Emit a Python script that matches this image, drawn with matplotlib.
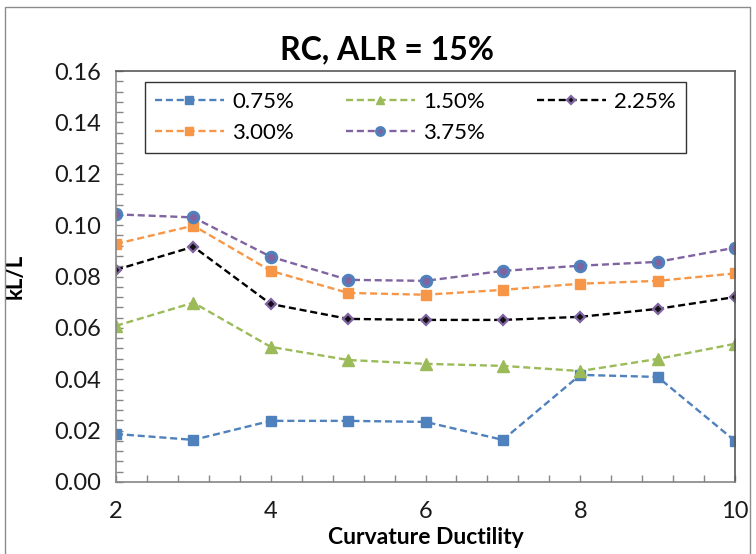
import matplotlib as mpl
mpl.use('Agg')
import matplotlib.pyplot as plt
from matplotlib.patches import Rectangle
from matplotlib.ticker import MultipleLocator

plt.rcParams['font.family'] = ['Lato', 'DejaVu Sans']

ductility = [2, 3, 4, 5, 6, 7, 8, 9, 10]
labels = ['0.75%', '1.50%', '2.25%', '3.00%', '3.75%']
kl_075 = [0.0187, 0.0164, 0.0238, 0.0238, 0.0234, 0.0164, 0.0417, 0.0409, 0.0160]
kl_150 = [0.0608, 0.0698, 0.0526, 0.0475, 0.0460, 0.0452, 0.0432, 0.0479, 0.0538]
kl_225 = [0.0826, 0.0916, 0.0693, 0.0635, 0.0631, 0.0631, 0.0643, 0.0674, 0.0720]
kl_300 = [0.0927, 0.0998, 0.0822, 0.0736, 0.0729, 0.0748, 0.0772, 0.0783, 0.0812]
kl_375 = [0.1042, 0.1030, 0.0877, 0.0787, 0.0783, 0.0822, 0.0842, 0.0857, 0.0912]

fig = plt.figure(figsize=(7.56, 5.54), dpi=100)
ax = fig.add_axes([116/756, 1-482/554, (735-116)/756, (482-71)/554])

dash = (3, 1.6)
l1, = ax.plot(ductility, kl_075, ls='--', dashes=dash, color='#4F81BD', lw=1.7,
              marker='s', ms=7.5, mfc='#4F81BD', mec='#4F81BD', label=labels[0])
l2, = ax.plot(ductility, kl_150, ls='--', dashes=dash, color='#9BBB59', lw=1.7,
              marker='^', ms=8.5, mfc='#9BBB59', mec='#9BBB59', label=labels[1])
l3, = ax.plot(ductility, kl_225, ls='--', dashes=dash, color='black', lw=1.7,
              marker='D', ms=5.5, mfc='#111111', mec='#8064A2', mew=1.6, label=labels[2])
l4, = ax.plot(ductility, kl_300, ls='--', dashes=dash, color='#F79646', lw=1.7,
              marker='s', ms=7.5, mfc='#F79646', mec='#F79646', label=labels[3])
l5, = ax.plot(ductility, kl_375, ls='--', dashes=dash, color='#8064A2', lw=1.7,
              marker='o', ms=7.5, mfc='#8064A2', mec='#4F81BD', mew=2.2, label=labels[4])

ax.set_xlim(2, 10)
ax.set_ylim(0, 0.16)
ax.xaxis.set_major_locator(MultipleLocator(2))
ax.xaxis.set_minor_locator(MultipleLocator(0.4))
ax.yaxis.set_major_locator(MultipleLocator(0.02))
ax.yaxis.set_minor_locator(MultipleLocator(0.004))
ax.yaxis.set_major_formatter(mpl.ticker.FormatStrFormatter('%.2f'))
ax.tick_params(which='both', direction='in', length=5, color='#868686', width=1)
ax.tick_params(axis='both', labelsize=17, colors='#868686', labelcolor='#1a1a1a')
ax.tick_params(axis='x', pad=14)
ax.tick_params(axis='y', pad=11)
for s in ['left', 'bottom']:
    ax.spines[s].set_color('#868686')
for s in ['top', 'right']:
    ax.spines[s].set_color('#595959')
for s in ax.spines.values():
    s.set_linewidth(1.2)

fig.text(387/756, 1-50/554, 'RC, ALR = 15%', fontsize=23, fontweight='bold',
         ha='center', va='center')
ax.set_xlabel('Curvature Ductility', fontsize=16.5, fontweight='bold', labelpad=3)
ax.set_ylabel('kL/L', fontsize=16, fontweight='bold', labelpad=20)

# row-major ordering for the 3-column legend
leg = ax.legend([l1, l4, l2, l5, l3], [labels[0], labels[3], labels[1], labels[4], labels[2]],
                ncol=3, loc='upper left', bbox_to_anchor=(29/619, 0.973),
                fontsize=16, frameon=True, fancybox=False, handlelength=3.1,
                columnspacing=2.35, handletextpad=0.36, borderpad=0.45, labelspacing=0.5,
                borderaxespad=0, markerscale=0.75)
leg.get_frame().set_edgecolor('black')
leg.get_frame().set_linewidth(1.0)

fig.patches.append(Rectangle((5/756, -0.05), 745/756, 1.05 - 7/554, transform=fig.transFigure,
                             fill=False, edgecolor='#8c8c8c', lw=1))

fig.savefig('out.png', dpi=100)
